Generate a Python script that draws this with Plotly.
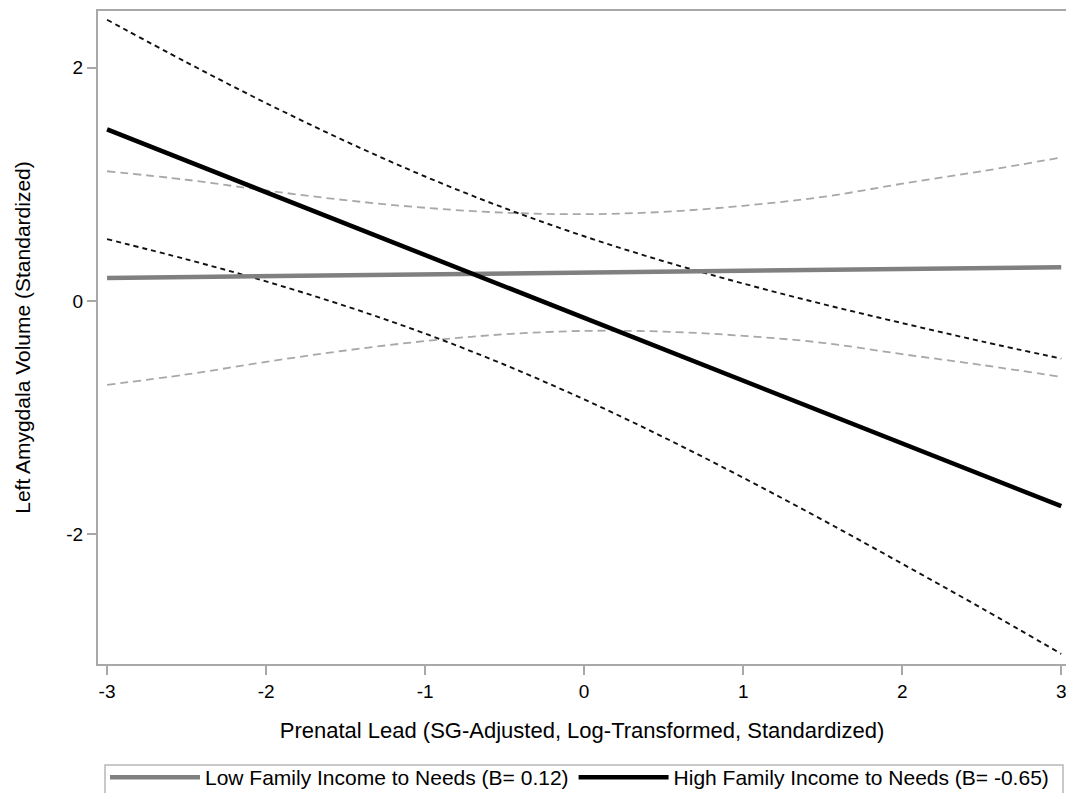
import plotly.graph_objects as go

x_vals = [-3, -2.5, -2, -1.5, -1, -0.5, 0, 0.5, 1, 1.5, 2, 2.5, 3]

low_mean = [0.197, 0.205, 0.213, 0.220, 0.228, 0.236, 0.244, 0.251, 0.259, 0.267, 0.275, 0.282, 0.290]
low_upper = [1.112, 1.039, 0.947, 0.864, 0.799, 0.757, 0.744, 0.764, 0.816, 0.892, 1.005, 1.112, 1.230]
low_lower = [-0.718, -0.629, -0.521, -0.424, -0.343, -0.285, -0.256, -0.262, -0.298, -0.358, -0.455, -0.548, -0.650]

high_mean = [1.470, 1.201, 0.932, 0.663, 0.394, 0.125, -0.144, -0.413, -0.682, -0.951, -1.220, -1.489, -1.758]
high_upper = [2.410, 2.045, 1.696, 1.369, 1.067, 0.796, 0.555, 0.341, 0.150, -0.026, -0.189, -0.346, -0.493]
high_lower = [0.530, 0.357, 0.168, -0.043, -0.279, -0.546, -0.843, -1.167, -1.514, -1.876, -2.251, -2.632, -3.023]

x_ticks = [-3, -2, -1, 0, 1, 2, 3]
y_ticks = [-2, 0, 2]

low_name = "Low Family Income to Needs (B= 0.12)"
high_name = "High Family Income to Needs (B= -0.65)"

FONT = "Liberation Sans, Arial, sans-serif"

W, H = 1066, 793
ML, MT, MB = 98, 11, 129
PLOT_W, PLOT_H = W - ML, H - MT - MB

fig = go.Figure()

# CI bands (dashed)
fig.add_trace(go.Scatter(x=x_vals, y=low_upper, mode="lines", showlegend=False,
                         line=dict(color="#a8a8a8", width=1.8, dash="8px,5px", shape="spline")))
fig.add_trace(go.Scatter(x=x_vals, y=low_lower, mode="lines", showlegend=False,
                         line=dict(color="#a8a8a8", width=1.8, dash="8px,5px", shape="spline")))
fig.add_trace(go.Scatter(x=x_vals, y=high_upper, mode="lines", showlegend=False,
                         line=dict(color="#111111", width=1.9, dash="5px,4px", shape="spline")))
fig.add_trace(go.Scatter(x=x_vals, y=high_lower, mode="lines", showlegend=False,
                         line=dict(color="#111111", width=1.9, dash="5px,4px", shape="spline")))

# Mean lines
fig.add_trace(go.Scatter(x=x_vals, y=low_mean, mode="lines", name=low_name,
                         line=dict(color="#808080", width=4.5)))
fig.add_trace(go.Scatter(x=x_vals, y=high_mean, mode="lines", name=high_name,
                         line=dict(color="#000000", width=4.5)))

axis_common = dict(
    showgrid=False, zeroline=False, showline=True, linecolor="#a8a8a8", linewidth=2,
    mirror=True, ticks="outside", ticklen=9, tickcolor="#a8a8a8", tickwidth=2,
    tickfont=dict(family=FONT, size=19, color="#000000"), automargin=False,
    ticklabeloverflow="allow",
)

fig.update_xaxes(
    range=[-3.057, 3.03], tickvals=x_ticks, ticktext=[str(v) for v in x_ticks],
    title=dict(text="Prenatal Lead (SG-Adjusted, Log-Transformed, Standardized)",
               font=dict(family=FONT, size=22, color="#000000"), standoff=22),
    **axis_common,
)
fig.update_yaxes(
    range=[-3.11, 2.485], tickvals=y_ticks, ticktext=[str(v) for v in y_ticks],
    title=dict(text="Left Amygdala Volume (Standardized)",
               font=dict(family=FONT, size=21, color="#000000"), standoff=30),
    **axis_common,
)

# legend frame (drawn as a box so the entries can sit close to its top edge)
fig.add_shape(type="rect", xref="paper", yref="paper", layer="above",
              x0=(105 - ML) / PLOT_W, x1=(1063 - ML) / PLOT_W,
              y0=(H - MB - 765) / PLOT_H, y1=(H - MB - 805) / PLOT_H,
              line=dict(color="#b8b8b8", width=1.5), fillcolor="rgba(0,0,0,0)")

fig.update_layout(
    width=W, height=H,
    margin=dict(l=ML, r=0, t=MT, b=MB, autoexpand=False),
    plot_bgcolor="#ffffff", paper_bgcolor="#ffffff",
    font=dict(family=FONT, size=19, color="#000000"),
    legend=dict(orientation="h", xref="container", x=105 / W, xanchor="left",
                yref="container", y=1 - 757 / H, yanchor="top",
                borderwidth=0, bgcolor="rgba(0,0,0,0)",
                font=dict(family=FONT, size=21, color="#000000"),
                itemwidth=90, traceorder="normal"),
)

fig.write_html(
    "out.html",
    config={"displayModeBar": False},
    post_script="document.body.style.margin='0';document.body.style.overflow='hidden';"
                "document.documentElement.style.overflow='hidden';",
)
